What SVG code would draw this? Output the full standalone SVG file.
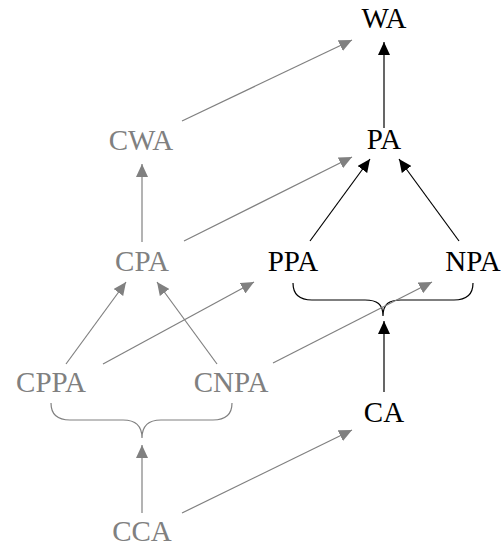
<svg xmlns="http://www.w3.org/2000/svg" width="501" height="547" viewBox="0 0 501 547">
<defs>
<style>
text{font-family:"Liberation Serif","Times New Roman",serif;font-size:29px;text-anchor:middle}
.k text{fill:#000}
.g text{fill:#808080}
.lk{stroke:#000;stroke-width:1.2;fill:none}
.lg{stroke:#808080;stroke-width:1.2;fill:none}
</style>
<marker id="ak" markerUnits="userSpaceOnUse" markerWidth="14" markerHeight="12" refX="13" refY="6" orient="auto"><path d="M0,0 L13,6 L0,12 z" fill="#000"/></marker>
<marker id="ag" markerUnits="userSpaceOnUse" markerWidth="14" markerHeight="12" refX="13" refY="6" orient="auto"><path d="M0,0 L13,6 L0,12 z" fill="#808080"/></marker>
</defs>
<rect width="501" height="547" fill="#fff"/>
<g id="WA" class="k"><text x="384" y="28">WA</text></g>
<g id="PA" class="k"><text x="384" y="149">PA</text></g>
<g id="PPA" class="k"><text x="293" y="271">PPA</text></g>
<g id="NPA" class="k"><text x="473" y="271">NPA</text></g>
<g id="CA" class="k"><text x="384" y="422">CA</text></g>
<g id="CWA" class="g"><text x="141" y="150">CWA</text></g>
<g id="CPA" class="g"><text x="142" y="271">CPA</text></g>
<g id="CPPA" class="g"><text x="51" y="392">CPPA</text></g>
<g id="CNPA" class="g"><text x="231" y="392">CNPA</text></g>
<g id="CCA" class="g"><text x="142" y="541">CCA</text></g>
<g id="connectors">
<path class="lk" d="M293,283 C293,295 300,300 312,300 L365,300 C377,300 383,304 383,316 C383,304 389,300 401,300 L454,300 C466,300 473,295 473,283"/>
<path class="lg" d="M51,403 C51,415 58,420 70,420 L123,420 C135,420 142,425 142,438 C142,425 149,420 161,420 L213,420 C225,420 232,415 232,403"/>
<line class="lk" x1="384" y1="128" x2="384" y2="42" marker-end="url(#ak)"/>
<line class="lk" x1="310" y1="241" x2="370" y2="159" marker-end="url(#ak)"/>
<line class="lk" x1="459" y1="241" x2="399" y2="159" marker-end="url(#ak)"/>
<line class="lk" x1="384" y1="392" x2="384" y2="321" marker-end="url(#ak)"/>
<line class="lg" x1="182" y1="121" x2="352" y2="40" marker-end="url(#ag)"/>
<line class="lg" x1="142" y1="242" x2="142" y2="164" marker-end="url(#ag)"/>
<line class="lg" x1="184" y1="241" x2="352" y2="157" marker-end="url(#ag)"/>
<line class="lg" x1="66" y1="364" x2="126" y2="282" marker-end="url(#ag)"/>
<line class="lg" x1="217" y1="364" x2="157" y2="282" marker-end="url(#ag)"/>
<line class="lg" x1="103" y1="364" x2="254" y2="282" marker-end="url(#ag)"/>
<line class="lg" x1="273" y1="363" x2="432" y2="282" marker-end="url(#ag)"/>
<line class="lg" x1="142" y1="513" x2="142" y2="445" marker-end="url(#ag)"/>
<line class="lg" x1="182" y1="513" x2="352" y2="430" marker-end="url(#ag)"/>
</g>
</svg>
